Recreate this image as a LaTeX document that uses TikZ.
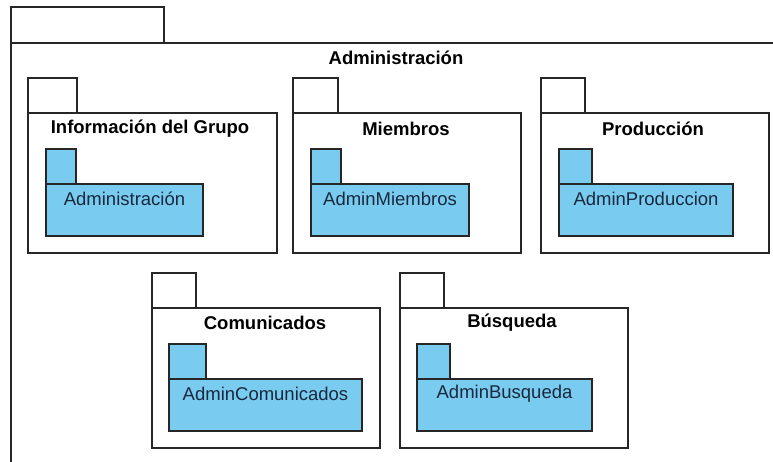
\documentclass[tikz,border=0pt]{standalone}
\usepackage{fontspec}
\setmainfont{Liberation Sans}
\definecolor{pkgblue}{RGB}{121,204,240}
\definecolor{pkgtext}{RGB}{25,40,60}
\begin{document}
\begin{tikzpicture}[x=1pt,y=-1pt,line width=1.1pt,
    pkgline/.style={draw=black!85},
    inner/.style={draw=black!85,fill=pkgblue},
    pkgtitle/.style={font=\fontsize{18.5}{18.5}\selectfont\bfseries,inner sep=0pt},
    innertitle/.style={font=\fontsize{18.5}{18.5}\selectfont,text=pkgtext,inner sep=0pt}]
    \useasboundingbox[fill=white] (0,0) rectangle (773,462);

    % Outer package
    \draw[pkgline] (11,43) -- (11,7) -- (164,7) -- (164,43);
    \draw[pkgline] (11,470) -- (11,43) -- (790,43);
    \node[pkgtitle] (admin) at (396,58) {Administración};

    % Informacion del Grupo
    \draw[pkgline] (28,78) rectangle (77,113);
    \draw[pkgline] (28,113) rectangle (277,253);
    \node[pkgtitle] (info) at (150,129) {Información del Grupo};
    \draw[inner] (46,149) rectangle (76,184);
    \draw[inner] (46,184) rectangle (203,236);
    \node[innertitle] (infoadm) at (124.5,199) {Administración};

    % Miembros
    \draw[pkgline] (293,78) rectangle (338,113);
    \draw[pkgline] (293,113) rectangle (521,253);
    \node[pkgtitle] (miem) at (406,129) {Miembros};
    \draw[inner] (311,149) rectangle (341,184);
    \draw[inner] (311,184) rectangle (469,236);
    \node[innertitle] (miemadm) at (390,199) {AdminMiembros};

    % Produccion
    \draw[pkgline] (541,78) rectangle (585,113);
    \draw[pkgline] (541,113) rectangle (769,253);
    \node[pkgtitle] (prod) at (653,129) {Producción};
    \draw[inner] (559,149) rectangle (592,184);
    \draw[inner] (559,184) rectangle (733,236);
    \node[innertitle] (prodadm) at (646,199) {AdminProduccion};

    % Comunicados
    \draw[pkgline] (152,273) rectangle (196,308);
    \draw[pkgline] (152,308) rectangle (380,448);
    \node[pkgtitle] (com) at (265,323) {Comunicados};
    \draw[inner] (169,344) rectangle (206,379);
    \draw[inner] (169,379) rectangle (362,431);
    \node[innertitle] (comadm) at (265.5,394) {AdminComunicados};

    % Busqueda
    \draw[pkgline] (400,273) rectangle (444,308);
    \draw[pkgline] (400,308) rectangle (628,448);
    \node[pkgtitle] (bus) at (512,323) {Búsqueda};
    \draw[inner] (417,344) rectangle (450,379);
    \draw[inner] (417,379) rectangle (592,431);
    \node[innertitle] (busadm) at (504.5,394) {AdminBusqueda};
\end{tikzpicture}
\end{document}
